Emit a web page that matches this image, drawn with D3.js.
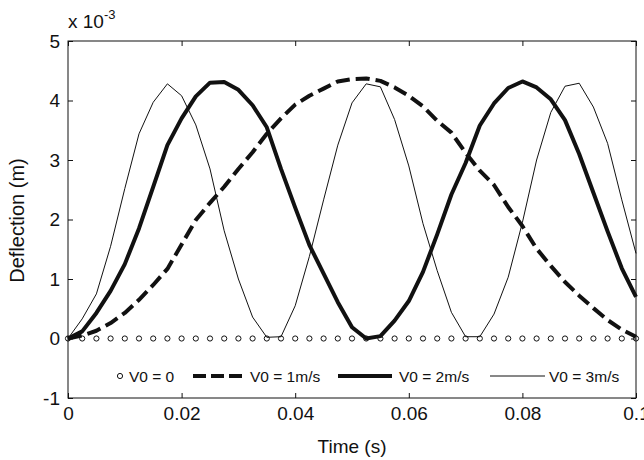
<!DOCTYPE html>
<html>
<head>
<meta charset="utf-8">
<script src="https://cdn.jsdelivr.net/npm/d3@7"></script>
<style>
  html, body { margin: 0; padding: 0; background: #fff; }
  svg { display: block; font-family: "Liberation Sans", Arial, Helvetica, sans-serif; }
</style>
</head>
<body>
<svg id="chart" width="644" height="460"></svg>
<script>
// ---- data ----
const time = d3.range(0, 41).map(i => +(i * 0.0025).toFixed(4));
const v0_0 = time.map(() => 0);
const v0_1 = [0, 0.05, 0.13, 0.26, 0.43, 0.65, 0.90, 1.17, 1.58, 1.99, 2.28, 2.55, 2.85,
  3.13, 3.44, 3.70, 3.93, 4.08, 4.20, 4.32, 4.36, 4.37, 4.33, 4.22, 4.08, 3.90, 3.66,
  3.46, 3.12, 2.82, 2.58, 2.21, 1.89, 1.51, 1.22, 0.95, 0.72, 0.51, 0.31, 0.15, 0.03];
const v0_2 = [0, 0.12, 0.43, 0.80, 1.25, 1.85, 2.55, 3.25, 3.70, 4.07, 4.30, 4.31, 4.18,
  3.92, 3.55, 2.85, 2.20, 1.57, 1.09, 0.61, 0.19, 0.0, 0.04, 0.30, 0.63, 1.12, 1.75,
  2.42, 2.95, 3.58, 3.95, 4.21, 4.32, 4.22, 4.02, 3.67, 3.10, 2.45, 1.80, 1.18, 0.70];
const v0_3 = [0, 0.33, 0.75, 1.55, 2.52, 3.44, 3.97, 4.28, 4.08, 3.59, 2.85, 1.81, 1.00,
  0.36, 0.02, 0.03, 0.55, 1.38, 2.33, 3.25, 3.96, 4.28, 4.23, 3.68, 2.90, 1.93, 1.14,
  0.44, 0.03, 0.03, 0.41, 1.03, 1.95, 3.00, 3.80, 4.24, 4.29, 3.89, 3.28, 2.33, 1.43];
const xTicks = [0, 0.02, 0.04, 0.06, 0.08, 0.1];
const xTickLabels = ["0", "0.02", "0.04", "0.06", "0.08", "0.1"];
const yTicks = [-1, 0, 1, 2, 3, 4, 5];
const yTickLabels = ["-1", "0", "1", "2", "3", "4", "5"];
const legendLabels = ["V0 = 0", "V0 = 1m/s", "V0 = 2m/s", "V0 = 3m/s"];

// ---- layout ----
const svg = d3.select("#chart");
const L = 68, R = 636, T = 41, B = 398;
const x = d3.scaleLinear().domain([0, 0.1]).range([L, R]);
const y = d3.scaleLinear().domain([-1, 5]).range([B, T]);
const ink = "#111";
const fs = 19;

// axes box
svg.append("rect").attr("x", L).attr("y", T).attr("width", R - L).attr("height", B - T)
  .attr("fill", "none").attr("stroke", ink).attr("stroke-width", 1);

// bottom axis (inward ticks)
const xAxis = d3.axisBottom(x).tickValues(xTicks)
  .tickFormat((d, i) => xTickLabels[i]).tickSizeInner(-5).tickSizeOuter(0).tickPadding(9);
const gx = svg.append("g").attr("transform", `translate(0,${B})`).call(xAxis);
gx.select(".domain").remove();
gx.selectAll("line").attr("stroke", ink);
gx.selectAll("text").attr("font-size", fs).attr("fill", ink).attr("font-family", null);

// top mirrored ticks
const gxt = svg.append("g").attr("transform", `translate(0,${T})`)
  .call(d3.axisTop(x).tickValues(xTicks).tickSizeInner(-5).tickSizeOuter(0).tickFormat(""));
gxt.select(".domain").remove();
gxt.selectAll("line").attr("stroke", ink);

// left axis
const yAxis = d3.axisLeft(y).tickValues(yTicks).tickFormat((d, i) => yTickLabels[i])
  .tickSizeInner(-5).tickSizeOuter(0).tickPadding(8);
const gy = svg.append("g").attr("transform", `translate(${L},0)`).call(yAxis);
gy.select(".domain").remove();
gy.selectAll("line").attr("stroke", ink);
gy.selectAll("text").attr("font-size", fs).attr("fill", ink).attr("font-family", null);

// right mirrored ticks
const gyr = svg.append("g").attr("transform", `translate(${R},0)`)
  .call(d3.axisRight(y).tickValues(yTicks).tickSizeInner(-5).tickSizeOuter(0).tickFormat(""));
gyr.select(".domain").remove();
gyr.selectAll("line").attr("stroke", ink);

// exponent label
const ex = svg.append("text").attr("x", L).attr("y", 28).attr("font-size", fs).attr("fill", ink);
ex.append("tspan").text("x 10");
ex.append("tspan").attr("font-size", 13).attr("dy", -9).text("-3");

// axis titles
svg.append("text").attr("x", (L + R) / 2).attr("y", 453).attr("text-anchor", "middle")
  .attr("font-size", fs).attr("fill", ink).text("Time (s)");
svg.append("text").attr("transform", `translate(24,${(T + B) / 2 + 1}) rotate(-90)`)
  .attr("text-anchor", "middle").attr("font-size", 20).attr("fill", ink).text("Deflection (m)");

// lines
const line = d3.line().x((d, i) => x(time[i])).y(d => y(d));
const series = [
  { data: v0_1, width: 4, dash: "14,6" },
  { data: v0_2, width: 4, dash: null },
  { data: v0_3, width: 1, dash: null }
];
series.forEach(s => {
  svg.append("path").datum(s.data).attr("d", line)
    .attr("fill", "none").attr("stroke", ink).attr("stroke-width", s.width)
    .attr("stroke-linejoin", "round")
    .attr("stroke-dasharray", s.dash);
});

// circles for V0 = 0
svg.append("g").selectAll("circle").data(v0_0).join("circle")
  .attr("cx", (d, i) => x(time[i])).attr("cy", d => y(d)).attr("r", 2.6)
  .attr("fill", "none").attr("stroke", ink).attr("stroke-width", 1);

// legend
const ly = 376;
const lg = svg.append("g").attr("font-size", 15.5).attr("fill", ink);
lg.append("circle").attr("cx", 120).attr("cy", ly).attr("r", 2.6)
  .attr("fill", "none").attr("stroke", ink);
lg.append("text").attr("x", 129).attr("y", ly + 5.5).text(legendLabels[0]);
lg.append("line").attr("x1", 193).attr("x2", 243).attr("y1", ly).attr("y2", ly)
  .attr("stroke", ink).attr("stroke-width", 4).attr("stroke-dasharray", "13,5");
lg.append("text").attr("x", 250).attr("y", ly + 5.5).text(legendLabels[1]);
lg.append("line").attr("x1", 338).attr("x2", 392).attr("y1", ly).attr("y2", ly)
  .attr("stroke", ink).attr("stroke-width", 4);
lg.append("text").attr("x", 399).attr("y", ly + 5.5).text(legendLabels[2]);
lg.append("line").attr("x1", 490).attr("x2", 545).attr("y1", ly).attr("y2", ly)
  .attr("stroke", ink).attr("stroke-width", 1);
lg.append("text").attr("x", 549).attr("y", ly + 5.5).text(legendLabels[3]);
</script>
</body>
</html>
